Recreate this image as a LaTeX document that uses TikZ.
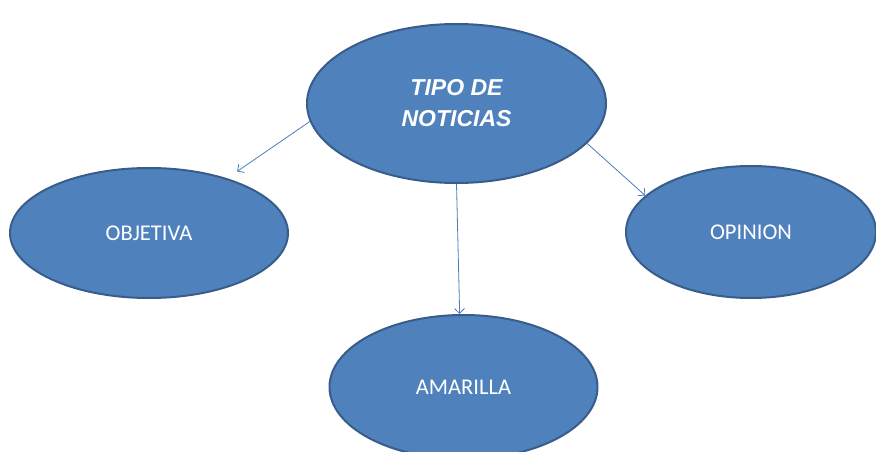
\documentclass[tikz,border=0pt]{standalone}
\usepackage{fontspec}
\usepackage{tikz}
\usetikzlibrary{shapes.geometric,arrows.meta}
\setmainfont{Carlito}
\newfontfamily\titlefont{Liberation Sans}
\definecolor{ovalfill}{HTML}{4F81BD}
\definecolor{ovalline}{HTML}{385D8A}
\definecolor{arrowline}{HTML}{4A7EBB}

\begin{document}
\begin{tikzpicture}[x=1pt,y=1pt,
        oval/.style={shape=ellipse,draw=ovalline,fill=ovalfill,line width=2pt,inner sep=0pt,text=white,font=\fontsize{22.5}{27}\selectfont},
        link/.style={draw=arrowline,line width=0.8pt,-{Straight Barb[length=5pt,width=10pt]}}]
        \useasboundingbox (0,0) rectangle (876,-452);
        \node[oval,minimum width=299,minimum height=159,align=center,
              font=\titlefont\bfseries\itshape\fontsize{23}{31}\selectfont] (tipo) at (456.5,-103.5) {TIPO DE\\NOTICIAS};
        \node[oval,minimum width=278,minimum height=130] (objetiva) at (149,-233) {OBJETIVA};
        \node[oval,minimum width=250,minimum height=132] (opinion) at (751,-232) {OPINION};
        \node[oval,minimum width=268,minimum height=144] (amarilla) at (463.5,-387) {AMARILLA};

        \path (tipo.187) edge[link,shorten >=12pt] (objetiva.35);
        \path (tipo.270) edge[link] (amarilla.93);
        \path (tipo.343) edge[link] (opinion.161);
    \end{tikzpicture}
\end{document}
